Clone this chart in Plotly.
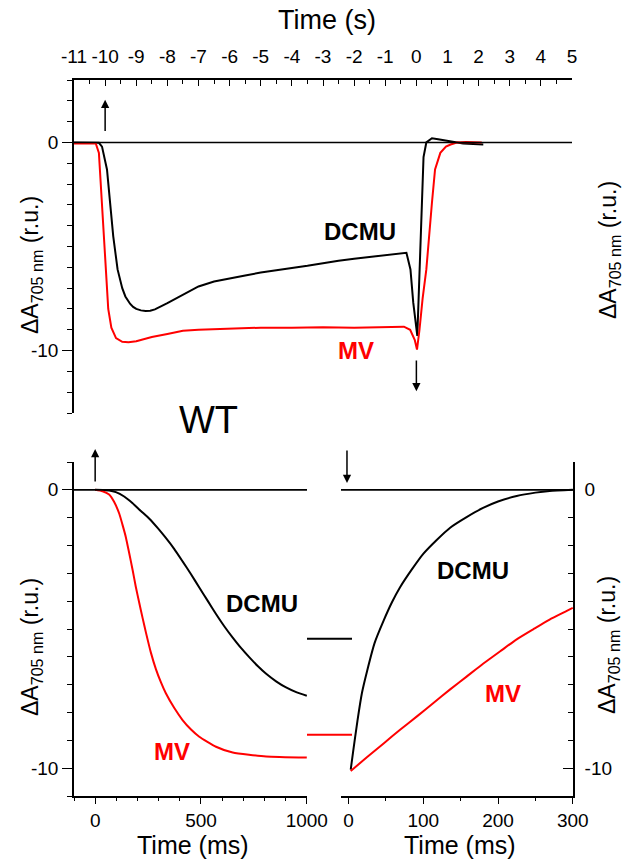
import plotly.graph_objects as go

W, H = 632, 862
FONT = "Liberation Sans, Arial, sans-serif"

# ---------------- data ----------------
# top panel (time in s)
top_t_dcmu = [-11, -10.3, -10.2, -10.1, -9.94, -9.84, -9.74, -9.6, -9.45, -9.35, -9.2, -9.1,
              -9.0, -8.85, -8.7, -8.55, -8.4, -8.0, -7.5, -7.0, -6.5, -6.0, -5.5, -5.0, -4.5,
              -4.0, -3.5, -3.0, -2.5, -2.0, -1.5, -1.0, -0.5, -0.32, -0.19, -0.1, 0.03, 0.07,
              0.13, 0.19, 0.23, 0.32, 0.5, 0.7, 0.9, 1.2, 1.5, 2.15]
top_v_dcmu = [0, 0, -0.02, -0.2, -1.3, -2.9, -4.5, -6.1, -7.0, -7.4, -7.75, -7.9,
              -8.0, -8.07, -8.1, -8.09, -8.02, -7.72, -7.3, -6.92, -6.68, -6.52, -6.39, -6.25, -6.13,
              -6.03, -5.93, -5.8, -5.69, -5.59, -5.5, -5.42, -5.34, -5.3, -6.1, -7.7, -9.3, -7.7,
              -4.5, -2.1, -0.7, 0.0, 0.2, 0.15, 0.1, 0.02, -0.05, -0.1]

top_t_mv = [-11, -10.3, -10.2, -10.1, -10.0, -9.9, -9.8, -9.65, -9.45, -9.25, -9.0, -8.5,
            -8.0, -7.5, -7.0, -6.0, -5.0, -4.0, -3.0, -2.0, -1.0, -0.4, -0.2, -0.05, 0.02,
            0.1, 0.2, 0.32, 0.5, 0.6, 0.77, 0.95, 1.1, 1.3, 1.6, 2.1]
top_v_mv = [-0.05, -0.05, -0.5, -3.0, -5.8, -8.0, -8.9, -9.4, -9.58, -9.6, -9.55, -9.35,
            -9.2, -9.05, -9.0, -8.95, -8.9, -8.9, -8.88, -8.9, -8.88, -8.85, -9.0, -9.5, -9.95,
            -9.0, -7.5, -6.1, -2.9, -1.3, -0.5, -0.2, -0.1, 0.0, 0.02, 0.0]

# bottom-left panel: light on (ms)
on_t_dcmu = [0, 35, 66, 98, 137, 177, 216, 256, 295, 334, 374, 413, 453, 492, 532, 571,
             610, 650, 689, 729, 768, 808, 855, 902, 950, 1000]
on_v_dcmu = [0, -0.01, -0.02, -0.08, -0.24, -0.48, -0.76, -1.04, -1.37, -1.73, -2.13, -2.57,
             -3.03, -3.51, -3.99, -4.46, -4.90, -5.31, -5.68, -6.02, -6.33, -6.61, -6.88,
             -7.10, -7.27, -7.40]

on_t_mv = [0, 35, 66, 90, 114, 129, 145, 161, 177, 192, 208, 224, 240, 263, 287, 311,
           334, 374, 413, 453, 492, 571, 650, 808, 1000]
on_v_mv = [0, -0.05, -0.17, -0.44, -0.86, -1.25, -1.70, -2.28, -2.88, -3.48, -4.05, -4.60,
           -5.13, -5.84, -6.44, -6.92, -7.31, -7.84, -8.27, -8.61, -8.87, -9.23, -9.44,
           -9.58, -9.62]

# bottom-right panel: light off (ms)
off_t_dcmu = [3, 6, 12, 18, 25, 35, 47, 58, 69, 85, 100, 118, 136, 158, 180, 200, 225,
              250, 269, 300]
off_v_dcmu = [-10.05, -9.45, -8.3, -7.3, -6.5, -5.5, -4.7, -4.05, -3.5, -2.85, -2.3, -1.8,
              -1.36, -0.98, -0.65, -0.42, -0.22, -0.1, -0.04, 0]

off_t_mv = [3, 25, 47, 69, 92, 114, 136, 158, 180, 203, 225, 247, 269, 292, 300]
off_v_mv = [-10.1, -9.6, -9.11, -8.62, -8.13, -7.65, -7.17, -6.71, -6.25, -5.80, -5.37,
            -5.01, -4.66, -4.35, -4.24]

# steady-state levels shown in the axis break
break_dcmu = -5.35
break_mv = -8.8

# tick labels
top_ticks = list(range(-11, 6))
on_ticks = [0, 500, 1000]
off_ticks = [0, 100, 200, 300]
y_ticks = [0, -10]

BLACK = "#000000"
RED = "#ff0000"

def px_x(p):
    return p / W

def px_y(p):
    return 1 - p / H

fig = go.Figure()

def add(x, y, color, xa, ya, shape="linear"):
    fig.add_trace(go.Scatter(x=x, y=y, mode="lines", xaxis=xa, yaxis=ya,
                             line=dict(color=color, width=2, shape=shape, smoothing=0.5),
                             showlegend=False, hoverinfo="skip"))

add(top_t_dcmu, top_v_dcmu, BLACK, "x", "y")
add(top_t_mv, top_v_mv, RED, "x", "y")
add(on_t_dcmu, on_v_dcmu, BLACK, "x2", "y2", "spline")
add(on_t_mv, on_v_mv, RED, "x2", "y2", "spline")
add(off_t_dcmu, off_v_dcmu, BLACK, "x3", "y3", "spline")
add(off_t_mv, off_v_mv, RED, "x3", "y3", "spline")

tickfont = dict(family=FONT, size=19, color="black")
axis_common = dict(showline=True, linecolor="black", linewidth=1.6, showgrid=False,
                   zeroline=False, tickcolor="black", tickwidth=1.4, tickfont=tickfont,
                   fixedrange=True, automargin=False)

top_x_dom = [px_x(74), px_x(572)]
top_y_dom = [px_y(413), px_y(80)]
bl_x_dom = [px_x(74), px_x(307)]
br_x_dom = [px_x(341), px_x(573)]
b_y_dom = [px_y(796), px_y(462)]

fig.update_layout(
    width=W, height=H, margin=dict(l=0, r=0, t=0, b=0), autosize=False,
    paper_bgcolor="white", plot_bgcolor="rgba(0,0,0,0)",
    font=dict(family=FONT, color="black"),
    xaxis=dict(domain=top_x_dom, anchor="y", side="top", range=[-11, 5],
               tickmode="array", tickvals=top_ticks, ticktext=[str(v) for v in top_ticks],
               ticks="inside", ticklen=6, ticklabelstandoff=8,
               minor=dict(dtick=0.5, tick0=0, ticks="inside", ticklen=4, tickcolor="black", tickwidth=1.4),
               **axis_common),
    yaxis=dict(domain=top_y_dom, anchor="x", range=[-13, 3],
               tickmode="array", tickvals=y_ticks, ticktext=[str(v) for v in y_ticks],
               ticks="outside", ticklen=10,
               minor=dict(dtick=1, tick0=0, ticks="outside", ticklen=5, tickcolor="black", tickwidth=1.4),
               **axis_common),
    yaxis4=dict(overlaying="y", anchor="x", side="right", range=[-13, 3],
                tickmode="array", tickvals=y_ticks, ticktext=[str(v) for v in y_ticks],
                ticks="inside", ticklen=10, ticklabelstandoff=6,
                minor=dict(dtick=1, tick0=0, ticks="inside", ticklen=5, tickcolor="black", tickwidth=1.4),
                **axis_common),
    xaxis2=dict(domain=bl_x_dom, anchor="y2", range=[-100, 1001],
                tickmode="array", tickvals=on_ticks, ticktext=[str(v) for v in on_ticks],
                ticks="outside", ticklen=6,
                minor=dict(dtick=100, tick0=0, ticks="outside", ticklen=3, tickcolor="black", tickwidth=1.4),
                **axis_common),
    yaxis2=dict(domain=b_y_dom, anchor="x2", range=[-11, 1],
                tickmode="array", tickvals=y_ticks, ticktext=[str(v) for v in y_ticks],
                ticks="outside", ticklen=10,
                minor=dict(dtick=1, tick0=0, ticks="outside", ticklen=5, tickcolor="black", tickwidth=1.4),
                **axis_common),
    xaxis3=dict(domain=br_x_dom, anchor="y3", range=[-10, 300.3],
                tickmode="array", tickvals=off_ticks, ticktext=[str(v) for v in off_ticks],
                ticks="outside", ticklen=6,
                minor=dict(dtick=50, tick0=0, ticks="outside", ticklen=3, tickcolor="black", tickwidth=1.4),
                **axis_common),
    yaxis3=dict(domain=b_y_dom, anchor="x3", side="right", range=[-11, 1],
                tickmode="array", tickvals=y_ticks, ticktext=[str(v) for v in y_ticks],
                ticks="inside", ticklen=10, ticklabelstandoff=6,
                minor=dict(dtick=1, tick0=0, ticks="inside", ticklen=5, tickcolor="black", tickwidth=1.4),
                **axis_common),
)

# zero baselines
shapes = []
for xr, yr in [("x domain", "y"), ("x2 domain", "y2"), ("x3 domain", "y3")]:
    shapes.append(dict(type="line", xref=xr, yref=yr, x0=0, x1=1, y0=0, y1=0,
                       line=dict(color="black", width=1.6)))
# axis-break steady-state levels
for lvl, col in [(break_dcmu, BLACK), (break_mv, RED)]:
    shapes.append(dict(type="line", xref="paper", yref="y2", x0=px_x(307), x1=px_x(352),
                       y0=lvl, y1=lvl, line=dict(color=col, width=2)))
fig.update_layout(shapes=shapes)

ann = []
def label(text, x, y, xref, yref, color, size=24, bold=True):
    ann.append(dict(text=f"<b>{text}</b>" if bold else text, x=x, y=y, xref=xref, yref=yref,
                    showarrow=False, font=dict(family=FONT, size=size, color=color),
                    xanchor="center", yanchor="middle"))

label("DCMU", -1.8, -4.3, "x", "y", BLACK)
label("MV", -1.95, -10.0, "x", "y", RED)
label("DCMU", 790, -4.1, "x2", "y2", BLACK)
label("MV", 365, -9.4, "x2", "y2", RED)
label("DCMU", 167, -2.9, "x3", "y3", BLACK)
label("MV", 207, -7.3, "x3", "y3", RED)

label("WT", px_x(208), px_y(420), "paper", "paper", BLACK, size=38, bold=False)
label("Time (s)", px_x(327), px_y(20), "paper", "paper", BLACK, size=27, bold=False)
label("Time (ms)", px_x(193), px_y(845), "paper", "paper", BLACK, size=25, bold=False)
label("Time (ms)", px_x(460), px_y(845), "paper", "paper", BLACK, size=25, bold=False)

ylab = "\u0394A<sub>705 nm</sub> (r.u.)"
for cx, cy in [(31, 265), (609, 250), (31, 647), (608, 645)]:
    ann.append(dict(text=ylab, x=px_x(cx), y=px_y(cy), xref="paper", yref="paper",
                    showarrow=False, textangle=-90, xanchor="center", yanchor="middle",
                    font=dict(family=FONT, size=23, color="black")))

def arrow(x, y_tip, y_tail, xref, yref):
    ann.append(dict(text="", x=x, y=y_tip, ax=x, ay=y_tail, xref=xref, yref=yref,
                    axref=xref, ayref=yref, showarrow=True, arrowhead=2, arrowsize=1.1,
                    arrowwidth=1.5, arrowcolor="black", standoff=0, startstandoff=0))

arrow(-10, 2.05, 0.48, "x", "y")
arrow(0, -11.95, -10.4, "x", "y")
arrow(0, 1.47, 0.25, "x2", "y2")
arrow(-2, 0.25, 1.47, "x3", "y3")

fig.update_layout(annotations=ann)

fig.write_html("out.html", config={"displayModeBar": False},
               post_script="document.body.style.margin='0';document.body.style.overflow='hidden';")
